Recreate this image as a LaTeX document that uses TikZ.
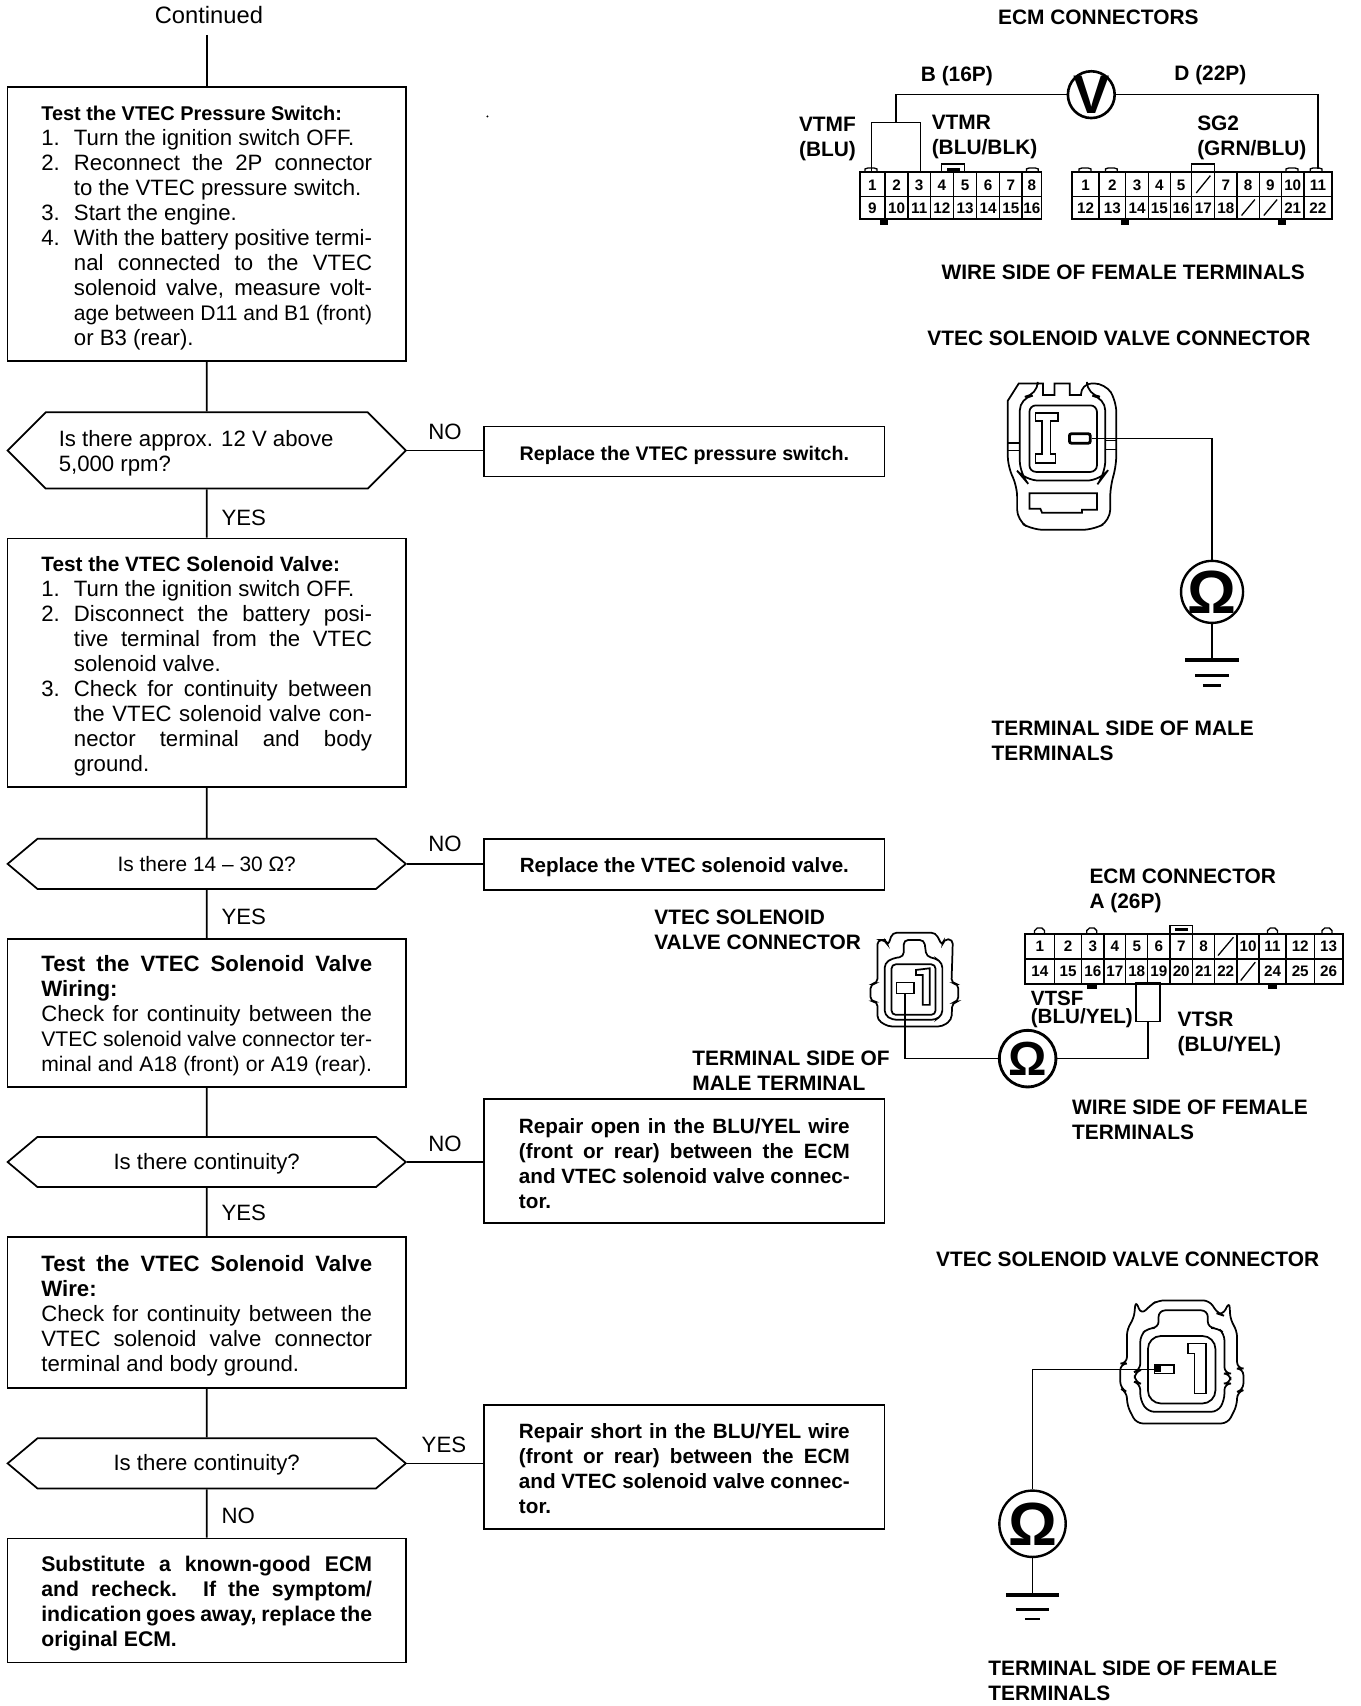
\documentclass[tikz,border=0pt]{standalone}
\usepackage{fontspec}
\setmainfont{Liberation Sans}
\usetikzlibrary{shapes.symbols}
\newcommand{\jl}[1]{\makebox[152pt][s]{#1}}
\newcommand{\il}[1]{\hspace*{15pt}\makebox[137pt][s]{#1}}
\newcommand{\pl}[1]{\hspace*{15pt}\makebox[137pt][l]{#1}}
\newcommand{\nj}[2]{\makebox[15pt][l]{#1}\makebox[137pt][s]{#2}}
\newcommand{\nn}[2]{\makebox[15pt][l]{#1}\makebox[137pt][l]{#2}}
\newcommand{\rj}[1]{\makebox[152pt][s]{#1}}
\newcommand{\gl}[2]{\raisebox{#1}[0pt][0pt]{\makebox[0pt][c]{#2}}}
\newcommand{\tp}[1]{\rule{0pt}{#1pt}}
\newcommand{\tight}{\fontsize{9.7}{11.5}\selectfont}
\tikzset{
  wire/.style={line width=.75pt},
  flowbox/.style={draw,line width=.8pt,minimum width=183pt,inner sep=0pt,align=left,font=\fontsize{10.2}{11.5}\selectfont},
  sidebox/.style={draw,line width=.8pt,minimum width=184pt,inner sep=0pt,align=left,font=\fontsize{9.5}{11.5}\selectfont\bfseries},
  hexbox/.style={draw,line width=.8pt,shape=signal,signal to=east and west,signal pointer angle=80,minimum width=183pt,inner sep=0pt,align=left,font=\fontsize{10.2}{11.5}\selectfont},
  answer/.style={inner sep=0pt,font=\fontsize{10.2}{12}\selectfont},
  lab/.style={inner sep=0pt,anchor=west,align=left,font=\fontsize{9.6}{11.5}\selectfont\bfseries},
  pin/.style={inner sep=0pt,font=\fontsize{7}{7}\selectfont\bfseries},
  meter/.style={draw,circle,line width=1pt,inner sep=0pt},
  blank/.style={draw,line width=.75pt,inner sep=0pt},
  body/.style={line width=.8pt},
  thin part/.style={line width=.6pt}
}
\begin{document}
\begin{tikzpicture}[x=.5pt,y=-.5pt]
\useasboundingbox (0,0) rectangle (1250,1568);
% flow chart
\node[answer,font=\fontsize{10.9}{12}\selectfont] (cont) at (192,14) {Continued};
\coordinate (contend) at (190,32);
\node[flowbox,minimum height=126pt] (b1) at (190,206) {\tp{10.5}\fontsize{9.15}{11.5}\selectfont\textbf{Test the VTEC Pressure Switch:}\\
\nn{1.}{Turn the ignition switch OFF.}\\
\nj{2.}{Reconnect the 2P connector}\\
\pl{to the VTEC pressure switch.}\\
\nn{3.}{Start the engine.}\\
\nj{4.}{With the battery positive termi-}\\
\il{nal connected to the VTEC}\\
\il{solenoid valve, measure volt-}\\
\il{\tight age between D11 and B1 (front)}\\
\pl{or B3 (rear).}};
\node[hexbox,signal pointer angle=90,minimum height=35pt] (h1) at (190,414) {\tp{10}\makebox[136pt][l]{Is there approx. 12 V above}\\5,000 rpm?};
\node[flowbox,minimum height=114pt] (b2) at (190,609) {\tp{10.5}\fontsize{9.55}{11.5}\selectfont\textbf{Test the VTEC Solenoid Valve:}\\
\nn{1.}{Turn the ignition switch OFF.}\\
\nj{2.}{Disconnect the battery posi-}\\
\il{tive terminal from the VTEC}\\
\pl{solenoid valve.}\\
\nj{3.}{Check for continuity between}\\
\il{the VTEC solenoid valve con-}\\
\il{nector terminal and body}\\
\pl{ground.}};
\node[hexbox,minimum height=23pt,font=\fontsize{9.6}{11.5}\selectfont] (h2) at (190,794) {Is there 14 – 30 Ω?};
\node[flowbox,minimum height=68pt] (b3) at (190,931) {\tp{10}\jl{\textbf{Test the VTEC Solenoid Valve}}\\
\textbf{Wiring:}\\
\jl{Check for continuity between the}\\
\jl{\tight VTEC solenoid valve connector ter-}\\
\jl{\tight minal and A18 (front) or A19 (rear).}};
\node[hexbox,minimum height=23pt] (h3) at (190,1068) {\tp{9}Is there continuity?};
\node[flowbox,minimum height=69.5pt] (b4) at (190,1206.5) {\tp{10}\jl{\textbf{Test the VTEC Solenoid Valve}}\\
\textbf{Wire:}\\
\jl{Check for continuity between the}\\
\jl{VTEC solenoid valve connector}\\
\makebox[152pt][l]{terminal and body ground.}};
\node[hexbox,minimum height=23pt] (h4) at (190,1345) {\tp{9}Is there continuity?};
\node[flowbox,minimum height=57pt,font=\fontsize{9.75}{11.5}\selectfont\bfseries] (b5) at (190,1471) {\tp{9.5}\jl{Substitute a known-good ECM}\\
\jl{and recheck. If the symptom/}\\
\jl{indication goes away, replace the}\\
\makebox[152pt][l]{original ECM.}};
\node[sidebox,minimum height=23pt,font=\fontsize{9.05}{11.5}\selectfont\bfseries] (r1) at (629,415) {\tp{10}Replace the VTEC pressure switch.};
\node[sidebox,minimum height=23.5pt,font=\fontsize{9.45}{11.5}\selectfont\bfseries] (r2) at (629,794.5) {\tp{9}Replace the VTEC solenoid valve.};
\node[sidebox,minimum height=57pt] (r3) at (629,1067) {\tp{9}\rj{Repair open in the BLU/YEL wire}\\
\rj{(front or rear) between the ECM}\\
\rj{and VTEC solenoid valve connec-}\\
\makebox[152pt][l]{tor.}};
\node[sidebox,minimum height=57pt] (r4) at (629,1348) {\tp{9}\rj{Repair short in the BLU/YEL wire}\\
\rj{(front or rear) between the ECM}\\
\rj{and VTEC solenoid valve connec-}\\
\makebox[152pt][l]{tor.}};
\node[answer] (a1) at (409,397) {NO};
\node[answer] (a2) at (224,476) {YES};
\node[answer] (a3) at (409,776) {NO};
\node[answer] (a4) at (224,843) {YES};
\node[answer] (a5) at (409,1051) {NO};
\node[answer] (a6) at (224,1115) {YES};
\node[answer] (a7) at (408,1328) {YES};
\node[answer] (a8) at (219,1393) {NO};
\draw[wire] (contend) -- (contend |- b1.north);
\draw[wire] (b1) -- (h1);
\draw[wire] (h1) -- (b2);
\draw[wire] (b2) -- (h2);
\draw[wire] (h2) -- (b3);
\draw[wire] (b3) -- (h3);
\draw[wire] (h3) -- (b4);
\draw[wire] (b4) -- (h4);
\draw[wire] (h4) -- (b5);
\draw[wire] (h1.east) -- (h1.east -| r1.west);
\draw[wire] (h2.east) -- (h2.east -| r2.west);
\draw[wire] (h3.east) -- (h3.east -| r3.west);
\draw[wire] (h4.east) -- (h4.east -| r4.west);
\fill (448,107) circle (1);
% labels right
\node[lab] (l1) at (917,16) {ECM CONNECTORS};
\node[lab] (l2) at (846,70) {B (16P)};
\node[lab] (l3) at (1079,69) {D (22P)};
\node[lab] (l4) at (734,127.5) {VTMF\\(BLU)};
\node[lab] (l5) at (856,126) {VTMR\\(BLU/BLK)};
\node[lab] (l6) at (1100,126.5) {SG2\\(GRN/BLU)};
\node[lab] (l7) at (865,250) {WIRE SIDE OF FEMALE TERMINALS};
\node[lab] (l8) at (852,311) {VTEC SOLENOID VALVE CONNECTOR};
\node[lab] (l9) at (911,681) {TERMINAL SIDE OF MALE\\TERMINALS};
\node[lab] (l10) at (1001,818.5) {ECM CONNECTOR\\A (26P)};
\node[lab] (l11) at (601,854.5) {VTEC SOLENOID\\VALVE CONNECTOR};
\node[lab,font=\fontsize{9.48}{8.3}\selectfont\bfseries] (l12) at (947,928) {VTSF\\(BLU/YEL)};
\node[lab] (l13) at (1082,950.5) {VTSR\\(BLU/YEL)};
\node[lab] (l14) at (636,984) {TERMINAL SIDE OF\\MALE TERMINAL};
\node[lab] (l15) at (985,1029) {WIRE SIDE OF FEMALE\\TERMINALS};
\node[lab] (l16) at (860,1157) {VTEC SOLENOID VALVE CONNECTOR};
\node[lab] (l17) at (908,1544.5) {TERMINAL SIDE OF FEMALE\\TERMINALS};
% ECM connectors B and D
\begin{scope}[shift={(717,0)},x=.17045pt,y=-.15285pt]
\foreach \a/\b/\t in {215/283/1,283/345/2,345/405/3,405/467/4,467/530/5,530/592/6,592/652/7,652/705/8}{
  \draw[thin part] (\a,518) rectangle (\b,590);
  \node[pin] (bt\t) at ({(\a+\b)/2},556) {\t};}
\foreach \a/\b/\t in {215/283/9,283/345/10,345/405/11,405/467/12,467/530/13,530/592/14,592/652/15,652/705/16}{
  \draw[thin part] (\a,590) rectangle (\b,658);
  \node[pin] (bb\t) at ({(\a+\b)/2},625) {\t};}
\draw[body] (215,518) rectangle (705,658);
\foreach \a/\b/\t in {787/860/1,860/932/2,932/993/3,993/1052/4,1052/1110/5,1172/1232/7,1232/1292/8,1292/1352/9,1352/1412/10,1412/1488/11}{
  \draw[thin part] (\a,518) rectangle (\b,590);
  \node[pin] (dt\t) at ({(\a+\b)/2},556) {\t};}
\foreach \a/\b/\t in {787/860/12,860/932/13,932/993/14,993/1052/15,1052/1110/16,1110/1172/17,1172/1232/18,1352/1412/21,1412/1488/22}{
  \draw[thin part] (\a,590) rectangle (\b,658);
  \node[pin] (db\t) at ({(\a+\b)/2},625) {\t};}
\foreach \a/\b/\ya/\yb in {1110/1172/518/590,1232/1292/590/658,1292/1352/590/658}{
  \draw[thin part] (\a,\ya) rectangle (\b,\yb);
  \draw[thin part] (\a+12,\yb-10) -- (\b-12,\ya+10);}
\draw[body] (787,518) rectangle (1488,658);
\foreach \c in {245,680,822,893,1380,1445}{\draw[thin part] (\c-16,518) -- (\c-16,508) -- (\c-8,505) -- (\c+8,505) -- (\c+16,508) -- (\c+16,518);}
\draw[thin part] (435,518) -- (435,493) -- (497,493) -- (497,518);
\fill (450,505) rectangle (485,518);
\draw[thin part] (1110,518) -- (1110,493) -- (1172,493) -- (1172,518);
\foreach \c in {280,930,1352}{\fill (\c-11,658) rectangle (\c+11,675);}
\coordinate (d11top) at (1450,508);
\end{scope}
\node[meter,line width=1.2pt,minimum size=21.5pt] (mv) at (1003,87) {\gl{-8.6pt}{\fontsize{25}{25}\selectfont\bfseries V}};
\node[blank,minimum width=22.5pt,minimum height=22.75pt] (vtmf) at (823.5,135.2) {};
\draw[wire] (mv.west) -| (vtmf.north);
\draw[wire] (mv.east) -| (d11top);
% Solenoid connector 1
\begin{scope}[shift={(873.7,276.6)},x=.15285pt,y=-.15285pt]
\draw[body,rounded corners=5pt] (172,300) -- (172,500) -- (200,555) -- (200,660) -- (245,688) -- (430,688) -- (480,660) -- (480,555) -- (498,500) -- (498,300) -- (465,248) -- (392,248) [sharp corners] -- (392,283) -- (358,283) -- (358,248) -- (312,248) -- (312,283) -- (278,283) -- (278,248) -- (205,248) -- cycle;
\draw[body,rounded corners=6pt] (262,252) -- (262,283) -- (208,290) -- (208,520) -- (225,540) -- (450,540) -- (465,520) -- (465,290) -- (410,283) -- (410,252);
\draw[thin part] (172,427) -- (208,427) (172,450) -- (208,450) (465,420) -- (498,420) (465,447) -- (498,447);
\draw[body,rounded corners=3pt] (237,314) rectangle (440,514);
\draw[body] (255,337) -- (322,337) -- (322,360) -- (300,360) -- (300,460) -- (315,460) -- (315,487) -- (255,487) -- (255,460) -- (275,460) -- (275,360) -- (255,360) -- cycle;
\draw[body] (237,578) -- (440,578) -- (440,628) -- (395,628) -- (395,637) -- (275,637) -- (270,625) -- (237,625) -- cycle;
\end{scope}
\node[blank,line width=1.3pt,rounded corners=1pt,minimum width=9.6pt,minimum height=4.4pt] (t1) at (992.5,403) {};
\node[meter,line width=1.1pt,minimum size=28.5pt] (m1) at (1114,544) {\gl{-9.8pt}{\fontsize{28}{28}\selectfont\bfseries Ω}};
\draw[wire] (t1.east) -| (m1.north);
\coordinate (g1) at (1109,607);
\draw[wire] (m1.south) -- (m1.south |- g1);
\draw[line width=1.8pt] (m1.south |- g1) ++(-24.5,0) -- ++(49,0);
\draw[line width=1.4pt] (m1.south |- g1) ++(-15.5,13.6) -- ++(31,0);
\draw[line width=1pt] (m1.south |- g1) ++(-8.5,23) -- ++(17,0);
% ECM connector A
\begin{scope}[shift={(596.5,789.6)},x=.2087pt,y=-.15285pt]
\foreach \a/\b/\t in {828/893/1,893/953/2,953/1002/3,1002/1050/4,1050/1098/5,1098/1147/6,1147/1197/7,1197/1245/8,1295/1343/10,1343/1403/11,1403/1465/12,1465/1528/13}{
  \draw[thin part] (\a,225) rectangle (\b,300);
  \node[pin] (at\t) at ({(\a+\b)/2},263) {\t};}
\foreach \a/\b/\t in {828/893/14,893/953/15,953/1002/16,1002/1050/17,1050/1098/18,1098/1147/19,1147/1197/20,1197/1245/21,1245/1295/22,1343/1403/24,1403/1465/25,1465/1528/26}{
  \draw[thin part] (\a,300) rectangle (\b,375);
  \node[pin] (ab\t) at ({(\a+\b)/2},337) {\t};}
\foreach \a/\b/\ya/\yb in {1245/1295/225/300,1295/1343/300/375}{
  \draw[thin part] (\a,\ya) rectangle (\b,\yb);
  \draw[thin part] (\a+8,\yb-10) -- (\b-8,\ya+10);}
\draw[body] (828,225) rectangle (1528,375);
\foreach \c in {860,975,1373,1493}{\draw[thin part] (\c-11,225) -- (\c-11,215) -- (\c-5,207) -- (\c+5,207) -- (\c+11,215) -- (\c+11,225);}
\draw[thin part] (1147,225) -- (1147,200) -- (1197,200) -- (1197,225);
\fill (1158,208) rectangle (1186,216);
\foreach \c in {975,1373}{\draw[thin part,fill=black] (\c-9,375) rectangle (\c+9,388);}
\end{scope}
% Solenoid connector 2
\begin{scope}[shift={(599,790.6)},x=.2087pt,y=-.15285pt]
\draw[body,rounded corners=2pt] (497,240) -- (515,240) -- (520,258) -- (530,218) -- (625,218) -- (640,258) -- (643,238) -- (663,238) -- (662,290) -- (660,370) -- (675,372) -- (675,425) -- (662,428) -- (660,480) -- (640,500) -- (520,500) -- (497,480) -- (497,425) -- (482,425) -- (482,372) -- (497,370) -- cycle;
\draw[body,rounded corners=2pt] (555,240) -- (600,240) -- (605,290) -- (625,295) -- (640,310) -- (640,465) -- (625,480) -- (530,480) -- (513,465) -- (513,310) -- (530,295) -- (555,290) -- cycle;
\draw[body,rounded corners=2pt] (528,313) rectangle (625,465);
\draw[body] (582,330) -- (612,325) -- (612,435) -- (597,435) -- (597,345) -- (582,345) -- cycle;
\end{scope}
\node[blank,minimum width=8pt,minimum height=5pt] (t2) at (832,908) {};
\node[blank,minimum width=11pt,minimum height=17.7pt] (vtsr) at (1055,921.2) {};
\node[meter,line width=1.3pt,minimum size=26pt] (m2) at (944.5,973) {\gl{-7.6pt}{\fontsize{22}{22}\selectfont\bfseries Ω}};
\draw[wire] (t2.south) |- (m2.west);
\draw[wire] (m2.east) -| (vtsr.south);
% Solenoid connector 3
\begin{scope}[shift={(874.7,1147.8)},x=.15285pt,y=-.15285pt]
\draw[body,rounded corners=3pt] (553,155) -- (570,198) -- (597,170) -- (620,155) -- (775,155) -- (800,195) -- (815,200) -- (835,158) -- (838,215) -- (858,245) -- (858,360) -- (877,360) -- (877,425) -- (858,430) -- (858,470) -- (830,525) -- (555,525) -- (527,470) -- (527,430) -- (507,420) -- (507,345) -- (527,345) -- (527,240) -- (548,210) -- cycle;
\draw[body,rounded corners=3pt] (622,238) -- (622,185) -- (770,185) -- (770,238) -- (800,238) -- (820,255) -- (820,375) -- (838,375) -- (838,405) -- (820,405) -- (820,455) -- (800,490) -- (590,490) -- (567,455) -- (567,405) -- (550,400) -- (550,370) -- (567,365) -- (567,260) -- (590,238) -- cycle;
\draw[body,rounded corners=6pt] (590,262) rectangle (793,465);
\draw[body] (710,285) -- (765,285) -- (765,435) -- (730,435) -- (730,315) -- (710,315) -- cycle;
\fill (612,345) rectangle (630,370);
\end{scope}
\node[blank,minimum width=9pt,minimum height=3.8pt] (t3) at (1070,1258.6) {};
\node[meter,line width=1.1pt,minimum size=30.5pt] (m3) at (949,1400.5) {\gl{-9.8pt}{\fontsize{28}{28}\selectfont\bfseries Ω}};
\draw[wire] (t3.west) -| (m3.north);
\coordinate (g3) at (949,1465.7);
\draw[wire] (m3.south) -- (g3);
\draw[line width=2pt] (g3) ++(-24.5,0) -- ++(49,0);
\draw[line width=1.6pt] (g3) ++(-15.5,13.8) -- ++(31,0);
\draw[line width=1.2pt] (g3) ++(-7,22.3) -- ++(14,0);
\end{tikzpicture}
\end{document}
